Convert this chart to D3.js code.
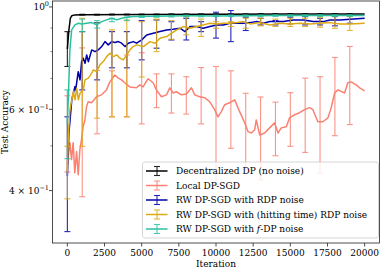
<!DOCTYPE html>
<html><head><meta charset="utf-8">
<script src="https://cdn.jsdelivr.net/npm/d3@7"></script>
<style>body{margin:0;background:#fff}svg{display:block}</style>
</head><body><svg id="c" width="380" height="270" font-family="DejaVu Serif"></svg>
<script>
// ---- data ----
const xTicks = [0,2500,5000,7500,10000,12500,15000,17500,20000];
const yMajor = [1, 0.6, 0.4];
const yMinor = [0.5, 0.7, 0.8, 0.9];
const seriesNames = ["Decentralized DP (no noise)","Local DP-SGD","RW DP-SGD with RDP noise","RW DP-SGD with (hitting time) RDP noise","RW DP-SGD with f-DP noise"];
const seriesColors = ["#000000","#FA8072","#0000AA","#DDAA15","#2CC0A0"];

const blackIter = [0,100,200,300,500,1000,5000,10000,15000,20000];
const blackAcc  = [0.81,0.89,0.945,0.957,0.961,0.962,0.963,0.964,0.965,0.965];

const redIter = [0,170,280,390,500,620,730,840,950,1060,1180,1290,1400,1630,1960,2300,2630,2860,3190,3410,3640,3860,4200,4650,4870,5090,5430,5770,5990,6330,6670,6890,7110,7340,7670,8010,8350,8570,8900,9240,9580,9910,10130,10360,10580,10920,11260,11590,11930,12150,12380,12600,12710,12940,13270,13610,13940,14170,14390,14730,14950,15290,15620,15960,16300,16520,16850,17190,17530,17750,17980,18200,18650,18870,19100,19430,19660,20000];
const redAcc  = [0.455,0.508,0.467,0.508,0.437,0.486,0.433,0.490,0.515,0.550,0.569,0.608,0.623,0.620,0.639,0.645,0.661,0.688,0.712,0.702,0.695,0.685,0.671,0.668,0.678,0.671,0.699,0.685,0.661,0.639,0.645,0.668,0.651,0.655,0.645,0.648,0.668,0.645,0.639,0.636,0.623,0.599,0.578,0.593,0.614,0.620,0.629,0.593,0.561,0.537,0.533,0.542,0.569,0.528,0.533,0.547,0.561,0.533,0.547,0.550,0.575,0.584,0.590,0.599,0.605,0.599,0.564,0.564,0.575,0.605,0.651,0.661,0.651,0.685,0.688,0.678,0.668,0.658];

const blueIter = [0,100,300,510,560,730,850,960,1070,1190,1300,1410,1640,1860,2080,2310,2530,2750,2980,3200,3430,3650,3880,4100,4430,4660,5000,5340,5780,6230,6680,7120,7580,7910,8250,8700,9140,9590,10040,10490,10940,11390,11830,12290,12740,13180,13630,14080,14530,15200,15870,16540,17220,17670,18340,19010,20000];
const blueAcc  = [0.43,0.53,0.63,0.672,0.661,0.724,0.695,0.761,0.774,0.755,0.787,0.761,0.807,0.800,0.807,0.8205,0.8412,0.8275,0.8412,0.837,0.8412,0.8345,0.8205,0.8345,0.8412,0.8345,0.8483,0.8697,0.8772,0.8842,0.8917,0.8949,0.8993,0.8842,0.9065,0.9065,0.8993,0.9065,0.9142,0.9142,0.922,0.922,0.922,0.9247,0.9294,0.922,0.9294,0.9294,0.9294,0.9373,0.9373,0.9294,0.9294,0.9373,0.9373,0.9406,0.9452];

const yelIter = [0,60,170,400,510,630,740,850,1070,1190,1410,1640,1750,1970,2190,2420,2640,2870,3090,3320,3540,3760,3990,4210,4430,4660,5110,5560,5900,6230,6680,7020,7360,7800,8250,8700,9140,9590,10040,10490,10940,11390,11830,12290,12960,13630,14300,14980,15650,16320,16990,17670,18340,19010,20000];
const yelAcc  = [0.44,0.52,0.598,0.6556,0.629,0.6668,0.629,0.650,0.6612,0.695,0.7008,0.7186,0.7305,0.7244,0.7489,0.7614,0.7805,0.794,0.7805,0.7872,0.7744,0.7679,0.7872,0.8071,0.8205,0.8275,0.8205,0.8412,0.8345,0.8556,0.8625,0.8772,0.8917,0.9065,0.8993,0.9065,0.9142,0.922,0.9188,0.922,0.922,0.9247,0.9294,0.9188,0.9247,0.9142,0.922,0.9188,0.922,0.9188,0.922,0.9247,0.9188,0.9188,0.922];

const tealIter = [0,60,170,290,510,740,960,1300,1640,1970,2310,2640,2980,3320,3650,3990,4430,6000,8000,10000,12000,14000,16000,18000,20000];
const tealAcc  = [0.56,0.629,0.807,0.8917,0.9142,0.922,0.9188,0.922,0.9247,0.9142,0.9294,0.9373,0.9452,0.9373,0.9452,0.950,0.9528,0.955,0.957,0.956,0.957,0.958,0.958,0.958,0.958];

// error bars every 1000 iterations
const barIter = [0,1000,2000,3000,4000,5000,6000,7000,8000,9000,10000,11000,12000,13000,14000,15000,16000,17000,18000,19000];
const blackHi = [0.884,0.964,0.964,0.965,0.965,0.965,0.965,0.966,0.966,0.966,0.966,0.966,0.966,0.967,0.967,0.967,0.967,0.967,0.967,0.967];
const blackLo = [0.743,0.960,0.960,0.961,0.961,0.961,0.961,0.962,0.962,0.962,0.962,0.962,0.962,0.963,0.963,0.963,0.963,0.963,0.963,0.963];
const redHi = [0.642,0.815,0.728,0.727,0.787,0.796,0.716,0.716,0.706,0.739,0.743,0.727,0.650,0.638,0.622,0.652,0.701,0.706,0.777,0.821];
const redLo = [0.439,0.388,0.531,0.578,0.578,0.558,0.605,0.589,0.586,0.558,0.412,0.494,0.444,0.422,0.476,0.499,0.484,0.437,0.526,0.556];
const blueHi = [0.578,0.884,0.925,0.884,0.884,0.934,0.937,0.929,0.945,0.929,0.974,0.982,0.950,0.945,0.934,0.950,0.953,0.945,0.953,0.956];
const blueLo = [0.326,0.661,0.695,0.738,0.738,0.768,0.814,0.848,0.848,0.884,0.856,0.841,0.889,0.914,0.914,0.919,0.914,0.914,0.910,0.922];
const yelHi = [0.499,0.945,0.922,0.892,0.937,0.929,0.941,0.934,0.953,0.941,0.929,0.929,0.945,0.945,0.941,0.945,0.945,0.950,0.956,0.953];
const yelLo = [0.384,0.499,0.574,0.578,0.578,0.705,0.800,0.851,0.870,0.863,0.899,0.907,0.899,0.910,0.907,0.907,0.907,0.904,0.899,0.889];
const tealHi = [0.661,0.941,0.934,0.945,0.950,0.957,0.958,0.959,0.960,0.959,0.960,0.961,0.961,0.961,0.962,0.962,0.962,0.962,0.962,0.962];
const tealLo = [0.469,0.884,0.900,0.929,0.934,0.949,0.950,0.951,0.952,0.952,0.953,0.953,0.953,0.954,0.954,0.954,0.954,0.954,0.954,0.954];

// ---- layout ----
const L = 52.5, R = 379.5, T = 1, B = 243;
const FS = 9;
const svg = d3.select("#c");
const x = d3.scaleLinear().domain([-1000, 21000]).range([L, R]);
const y = d3.scaleLog().domain([0.308, 1.03]).range([B, T]);

const series = [
  {iter: blackIter, acc: blackAcc, hi: blackHi, lo: blackLo},
  {iter: redIter, acc: redAcc, hi: redHi, lo: redLo},
  {iter: blueIter, acc: blueAcc, hi: blueHi, lo: blueLo},
  {iter: yelIter, acc: yelAcc, hi: yelHi, lo: yelLo},
  {iter: tealIter, acc: tealAcc, hi: tealHi, lo: tealLo}
];

svg.append("clipPath").attr("id","pc").append("rect")
  .attr("x", L).attr("y", T).attr("width", R-L).attr("height", B-T);
const plot = svg.append("g").attr("clip-path","url(#pc)");
const line = d3.line().x(d => x(d[0])).y(d => y(d[1]));

series.forEach((s, i) => {
  const col = seriesColors[i];
  plot.append("path").datum(d3.zip(s.iter, s.acc))
    .attr("d", line).attr("fill","none").attr("stroke", col)
    .attr("stroke-width", 1.5).attr("stroke-linejoin","round");
  const bars = d3.zip(barIter, s.lo, s.hi);
  const g = plot.append("g").attr("stroke", col).attr("stroke-width", 1.1).attr("opacity", 0.85);
  g.selectAll("line.v").data(bars).join("line").attr("class","v")
    .attr("x1", d => x(d[0])).attr("x2", d => x(d[0]))
    .attr("y1", d => y(d[1])).attr("y2", d => y(d[2]));
  ["lo","hi"].forEach((k, j) => {
    g.selectAll("line."+k).data(bars).join("line").attr("class", k)
      .attr("x1", d => x(d[0]) - 3).attr("x2", d => x(d[0]) + 3)
      .attr("y1", d => y(d[1+j])).attr("y2", d => y(d[1+j]));
  });
});

// ---- axes ----
const ax = svg.append("g");
ax.append("rect").attr("x", L).attr("y", T).attr("width", R-L).attr("height", B-T)
  .attr("fill","none").attr("stroke","#222").attr("stroke-width",0.8);

xTicks.forEach(t => {
  ax.append("line").attr("x1", x(t)).attr("x2", x(t)).attr("y1", B).attr("y2", B+3.5)
    .attr("stroke","#222").attr("stroke-width",0.8);
  ax.append("text").attr("x", x(t)).attr("y", 256).attr("text-anchor","middle")
    .attr("font-size", FS).text(t);
});

yMajor.forEach(v => {
  ax.append("line").attr("x1", L-3.5).attr("x2", L).attr("y1", y(v)).attr("y2", y(v))
    .attr("stroke","#222").attr("stroke-width",0.8);
});
yMinor.forEach(v => {
  ax.append("line").attr("x1", L-2).attr("x2", L).attr("y1", y(v)).attr("y2", y(v))
    .attr("stroke","#222").attr("stroke-width",0.6);
});
const yLab = [ {v:1, pre:"10", sup:"0"}, {v:0.6, pre:"6 × 10", sup:"−1"}, {v:0.4, pre:"4 × 10", sup:"−1"} ];
yLab.forEach(o => {
  const t = ax.append("text").attr("x", 49).attr("y", y(o.v) + 3.5)
    .attr("text-anchor","end").attr("font-size", FS);
  t.append("tspan").text(o.pre);
  t.append("tspan").attr("dy", -4).attr("font-size", 6.5).text(o.sup);
});

svg.append("text").attr("x", (L+R)/2).attr("y", 267).attr("text-anchor","middle")
  .attr("font-size", FS).text("Iteration");
svg.append("text").attr("transform", `translate(8,${(T+B)/2}) rotate(-90)`)
  .attr("text-anchor","middle").attr("font-size", FS).text("Test Accuracy");

// ---- legend ----
const lg = svg.append("g");
lg.append("rect").attr("x", 142.5).attr("y", 162).attr("width", 236).attr("height", 76)
  .attr("rx", 2.5).attr("fill","#fff").attr("fill-opacity",0.8)
  .attr("stroke","#ccc").attr("stroke-width",0.8);
seriesNames.forEach((name, i) => {
  const cy = 171 + i*14.5;
  const col = seriesColors[i];
  lg.append("line").attr("x1",146).attr("x2",167.5).attr("y1",cy).attr("y2",cy)
    .attr("stroke",col).attr("stroke-width",1.5);
  const eg = lg.append("g").attr("stroke",col).attr("stroke-width",1.1).attr("opacity",0.85);
  eg.append("line").attr("x1",157).attr("x2",157).attr("y1",cy-4.5).attr("y2",cy+4.5);
  eg.append("line").attr("x1",154).attr("x2",160).attr("y1",cy-4.5).attr("y2",cy-4.5);
  eg.append("line").attr("x1",154).attr("x2",160).attr("y1",cy+4.5).attr("y2",cy+4.5);
  const t = lg.append("text").attr("x",176).attr("y",cy+3.4).attr("font-size",FS);
  if (name.indexOf("f-DP") >= 0) {
    t.append("tspan").text("RW DP-SGD with ");
    t.append("tspan").attr("font-style","italic").text("f");
    t.append("tspan").text("-DP noise");
  } else t.text(name);
});
</script></body></html>
